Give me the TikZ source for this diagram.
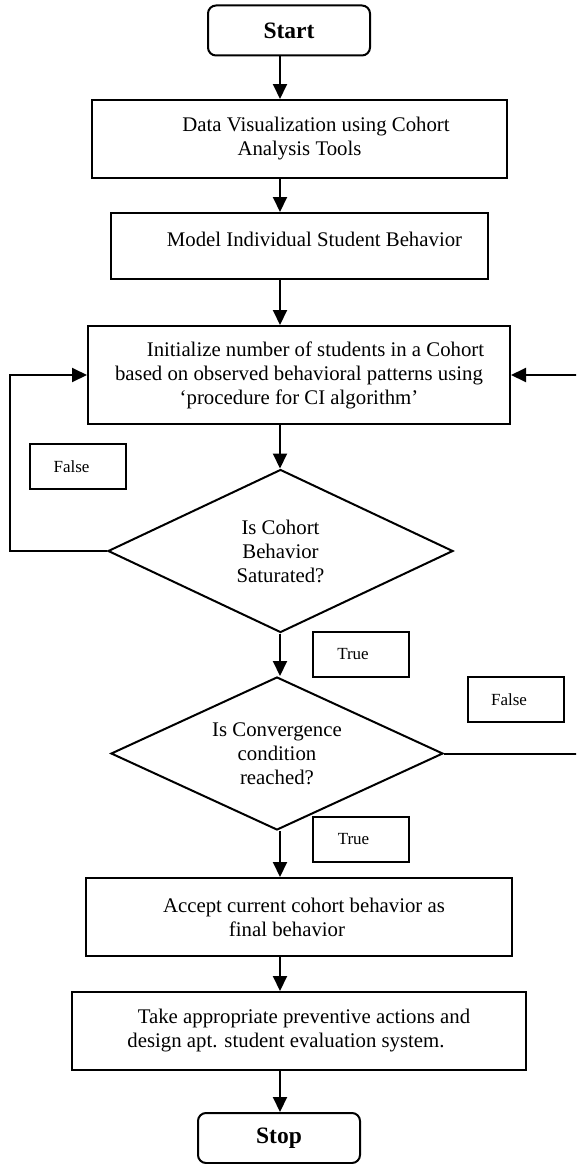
\documentclass[tikz,border=0pt]{standalone}
\usepackage{fontspec}
\setmainfont{Liberation Serif}
\usetikzlibrary{shapes.geometric,arrows.meta}
\newcommand\myMainFont{\fontsize{20.8}{24}\selectfont}
\newcommand\myTermFont{\fontsize{23.5}{26}\selectfont\bfseries}
\newcommand\myLabFont{\fontsize{17}{20}\selectfont}
\begin{document}
\begin{tikzpicture}[x=1pt,y=-1pt,line width=2pt,
  box/.style={draw, rectangle, inner sep=0pt, align=center, font=\myMainFont},
  term/.style={draw, rectangle, rounded corners=8pt, inner sep=0pt, font=\myTermFont, minimum width=162pt, minimum height=50pt},
  dec/.style={draw, diamond, aspect=2.1, inner sep=0pt, align=center, font=\myMainFont},
  lab/.style={draw, rectangle, inner sep=0pt, font=\myLabFont, minimum width=96pt, minimum height=45pt},
  arr/.style={-{Triangle[length=15pt,width=14pt]}}]
\useasboundingbox (0,0) rectangle (576,1164);
\clip (0,0) rectangle (576,1164);
\coordinate (ax) at (280,0);
\coordinate (lx) at (10,0);
\coordinate (rx) at (582,0);

\node[term] (start) at (289,30.5) {Start};
\node[box, minimum width=415pt, minimum height=78pt] (data) at (299.5,139)
  {\hspace*{33pt}Data Visualization using Cohort\\Analysis Tools};
\node[box, minimum width=377pt, minimum height=66pt] (model) at (299.5,246)
  {\raisebox{7pt}[\height][\depth]{\hspace*{30pt}Model Individual Student Behavior}};
\node[box, minimum width=422pt, minimum height=98pt] (init) at (299,375)
  {\hspace*{33pt}Initialize number of students in a Cohort\\based on observed behavioral patterns using\\`procedure for CI algorithm'};
\node[dec, minimum width=345pt, minimum height=163pt] (d1) at (280.5,551)
  {Is Cohort\\Behavior\\Saturated?};
\node[dec, minimum width=332pt, minimum height=153pt] (d2) at (277,753.5)
  {Is Convergence\\condition\\reached?};
\node[box, minimum width=426pt, minimum height=78pt] (accept) at (299,917)
  {\hspace*{10pt}Accept current cohort behavior as\\\hspace*{-24pt}final behavior};
\node[box, minimum width=454pt, minimum height=78pt] (take) at (299,1031)
  {\hspace*{10pt}Take appropriate preventive actions and\\\hspace*{-26pt}design apt. student evaluation system.};
\node[term] (stop) at (279,1138) {Stop};

\node[lab] (f1) at (77.5,466.5) {False\hspace*{12pt}};
\node[lab] (t1) at (361,654.5) {True\hspace*{16pt}};
\node[lab] (f2) at (516,699.5) {False\hspace*{14pt}};
\node[lab] (t2) at (361,839.5) {True\hspace*{15pt}};

\draw[arr] (start.south -| ax) -- (data.north -| ax);
\draw[arr] (data.south -| ax) -- (model.north -| ax);
\draw[arr] (model.south -| ax) -- (init.north -| ax);
\draw[arr] (init.south -| ax) -- (d1.north -| ax);
\draw[arr] (d1.south -| ax) -- (d2.north -| ax);
\draw[arr] (d2.south -| ax) -- (accept.north -| ax);
\draw[arr] (accept.south -| ax) -- (take.north -| ax);
\draw[arr] (take.south -| ax) -- (stop.north -| ax);

\draw[arr] (d1.west) -- (d1.west -| lx) -- (init.west -| lx) -- (init.west);
\draw[arr] (d2.east) -- (d2.east -| rx) -- (init.east -| rx) -- (init.east);
\end{tikzpicture}
\end{document}
